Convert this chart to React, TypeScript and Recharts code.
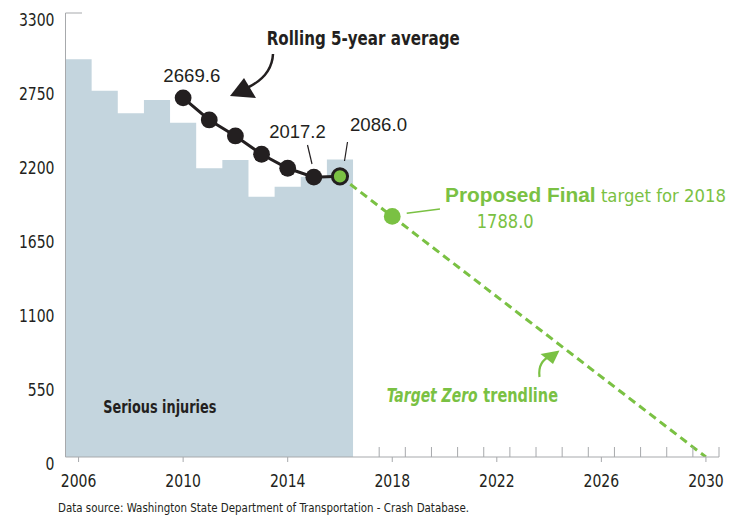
import React, { useLayoutEffect, useRef, useState } from 'react';
import { ComposedChart, Area, Line, XAxis, YAxis } from 'recharts';

// ---- data ----
const years = [2006, 2007, 2008, 2009, 2010, 2011, 2012, 2013, 2014, 2015, 2016];
const seriousInjuries = [2956, 2722, 2554, 2653, 2485, 2146, 2207, 1935, 2009, 2083, 2212];

const avgYears = [2010, 2011, 2012, 2013, 2014, 2015, 2016];
const rollingAverage = [2669.6, 2505, 2386, 2250, 2146, 2080, 2086.0];

const trendYears = [2016, 2018, 2030];
const trendValues = [2086.0, 1788.0, 0];

const xMajorTicks = [2006, 2010, 2014, 2018, 2022, 2026, 2030];
const xMinorTicks = [2017.5, 2018.5, 2019.5, 2020.5, 2021.5, 2022.5, 2023.5, 2024.5, 2025.5, 2026.5, 2027.5, 2028.5, 2029.5, 2030.5];
const yTicks = [0, 550, 1100, 1650, 2200, 2750, 3300];

// ---- derived tables ----
const barData = [
  ...years.map((y, i) => ({ x: y - 0.5, v: seriousInjuries[i] })),
  { x: years[years.length - 1] + 0.5, v: seriousInjuries[seriousInjuries.length - 1] },
];
const avgData = avgYears.map((y, i) => ({ x: y, avg: rollingAverage[i] }));
const trendData = trendYears.map((y, i) => ({ x: y, t: trendValues[i] }));

// ---- styles ----
const NARROW = "'Liberation Sans Narrow', 'DejaVu Sans Condensed', 'Arial Narrow', sans-serif";
const SANS = "'Liberation Sans', Arial, sans-serif";
const DARK = '#231f20';
const GREEN = '#7ac143';
const BAR = '#c4d5de';
const AXIS = '#a7a9ac';

const FitText = ({ x, y, width, children, ...rest }: any) => {
  const ref = useRef<SVGTextElement>(null);
  const [s, setS] = useState(1);
  useLayoutEffect(() => {
    if (ref.current) {
      const w = ref.current.getComputedTextLength();
      if (w > 0) setS(width / w);
    }
  }, [width]);
  return (
    <text ref={ref} x={0} y={0} transform={`translate(${x},${y}) scale(${s},1)`} {...rest}>{children}</text>
  );
};

const XTick = (props: any) => {
  const { x, y, payload } = props;
  const v = payload.value;
  if (Number.isInteger(v)) {
    const s = String(v);
    return (
      <g>
        <line x1={x} x2={x} y1={y} y2={y + 5} stroke={AXIS} strokeWidth={1} />
        <text x={x} y={y + 30} textAnchor="middle" fill={DARK} fontFamily={NARROW} fontSize={18}
          textLength={s.length * 8.9} lengthAdjust="spacingAndGlyphs">{s}</text>
      </g>
    );
  }
  return <line x1={x} x2={x} y1={y} y2={y - 10} stroke={AXIS} strokeWidth={1} />;
};

const YTick = (props: any) => {
  const { y, payload } = props;
  const s = String(payload.value);
  return (
    <g>
      {payload.value === 3300 && <line x1={65.5} x2={82} y1={y} y2={y} stroke={AXIS} strokeWidth={1} />}
      <text x={54.5} y={y + 12.5} textAnchor="end" fill={DARK} fontFamily={NARROW} fontSize={18}
        textLength={s.length * 8.9} lengthAdjust="spacingAndGlyphs">{s}</text>
    </g>
  );
};

const AvgDot = (props: any) => {
  const { cx, cy, index } = props;
  if (cx == null || cy == null) return null;
  if (index === avgData.length - 1) {
    return <circle key={`a${index}`} cx={cx} cy={cy} r={7.6} fill={GREEN} stroke={DARK} strokeWidth={3} />;
  }
  return <circle key={`a${index}`} cx={cx} cy={cy} r={8.4} fill={DARK} />;
};

const TrendDot = (props: any) => {
  const { cx, cy, index, payload } = props;
  if (cx == null || cy == null) return null;
  if (payload && payload.x === 2018) {
    return <circle key={`t${index}`} cx={cx} cy={cy} r={8.4} fill={GREEN} />;
  }
  return <g key={`t${index}`} />;
};

export default function App() {
  return (
    <div style={{ position: 'absolute', left: 0, top: 0, width: 729, height: 517, background: '#fff' }}>
      <ComposedChart width={729} height={517} data={barData}
        margin={{ top: 13, right: 10, left: 0, bottom: 30 }}>
        <XAxis dataKey="x" type="number" domain={[2005.5, 2030.5]} ticks={[...xMajorTicks, ...xMinorTicks]}
          interval={0} allowDataOverflow axisLine={{ stroke: AXIS, strokeWidth: 1 }} tickLine={false}
          tickSize={0} tickMargin={0} height={30} tick={<XTick />} />
        <YAxis type="number" domain={[0, 3300]} ticks={yTicks} interval={0} allowDataOverflow
          axisLine={{ stroke: AXIS, strokeWidth: 1 }} tickLine={false} tickSize={0} tickMargin={0}
          width={65.5} tick={<YTick />} />
        <Area data={barData} dataKey="v" type="stepAfter" fill={BAR} fillOpacity={1} stroke="none"
          isAnimationActive={false} dot={false} activeDot={false} />
        <Line data={trendData} dataKey="t" type="linear" stroke={GREEN} strokeWidth={3}
          strokeDasharray="8 5" dot={<TrendDot />} activeDot={false} isAnimationActive={false} />
        <Line data={avgData} dataKey="avg" type="linear" stroke={DARK} strokeWidth={3}
          dot={<AvgDot />} activeDot={false} isAnimationActive={false} />
      </ComposedChart>
      <svg width={729} height={517} style={{ position: 'absolute', left: 0, top: 0, pointerEvents: 'none' }}>
        {/* Rolling average annotation */}
        <text x={266.7} y={45} fill={DARK} fontFamily={NARROW} fontWeight="bold" fontSize={19}
          textLength={193} lengthAdjust="spacingAndGlyphs">Rolling 5-year average</text>
        <path d="M273,54 Q272,76 247,88" fill="none" stroke={DARK} strokeWidth={2.5} />
        <polygon points="230,96 244,78 256,98" fill={DARK} />

        <text x={163.3} y={81.5} fill={DARK} fontFamily={SANS} fontSize={19}
          textLength={57} lengthAdjust="spacingAndGlyphs">2669.6</text>
        <text x={269.3} y={138.3} fill={DARK} fontFamily={SANS} fontSize={19}
          textLength={56.4} lengthAdjust="spacingAndGlyphs">2017.2</text>
        <line x1={307.5} y1={145} x2={312} y2={164} stroke={DARK} strokeWidth={1.2} />
        <text x={350} y={130.7} fill={DARK} fontFamily={SANS} fontSize={19}
          textLength={57} lengthAdjust="spacingAndGlyphs">2086.0</text>
        <line x1={347.5} y1={142} x2={344.5} y2={161} stroke={DARK} strokeWidth={1.2} />

        {/* Proposed final */}
        <line x1={406.7} y1={213.3} x2={440} y2={209} stroke={GREEN} strokeWidth={1.5} />
        <text x={445} y={201.5} fill={GREEN} textLength={281} lengthAdjust="spacingAndGlyphs">
          <tspan fontFamily={SANS} fontWeight="bold" fontSize={20.5}>Proposed Final</tspan>
          <tspan fontFamily={NARROW} fontSize={18}> target for 2018</tspan>
        </text>
        <text x={476.7} y={227.7} fill={GREEN} fontFamily={NARROW} fontSize={19}
          textLength={57} lengthAdjust="spacingAndGlyphs">1788.0</text>

        {/* Target Zero */}
        <path d="M539.5,377 Q537.5,361 551,356" fill="none" stroke={GREEN} strokeWidth={2.2} />
        <polygon points="559.5,350.5 540.5,354 553,364" fill={GREEN} />
        <FitText x={386.7} y={401.5} width={91} fill={GREEN} fontFamily={NARROW} fontWeight="bold"
          fontStyle="italic" fontSize={19}>Target Zero</FitText>
        <FitText x={483.3} y={401.5} width={74.7} fill={GREEN} fontFamily={NARROW} fontWeight="bold"
          fontSize={19}>trendline</FitText>

        <text x={103.3} y={413} fill={DARK} fontFamily={NARROW} fontWeight="bold" fontSize={18.5}
          textLength={113} lengthAdjust="spacingAndGlyphs">Serious injuries</text>

        <text x={58} y={511.5} fill={DARK} fontFamily={NARROW} fontSize={12.5}
          textLength={411} lengthAdjust="spacingAndGlyphs">Data source: Washington State Department of Transportation - Crash Database.</text>
      </svg>
    </div>
  );
}
